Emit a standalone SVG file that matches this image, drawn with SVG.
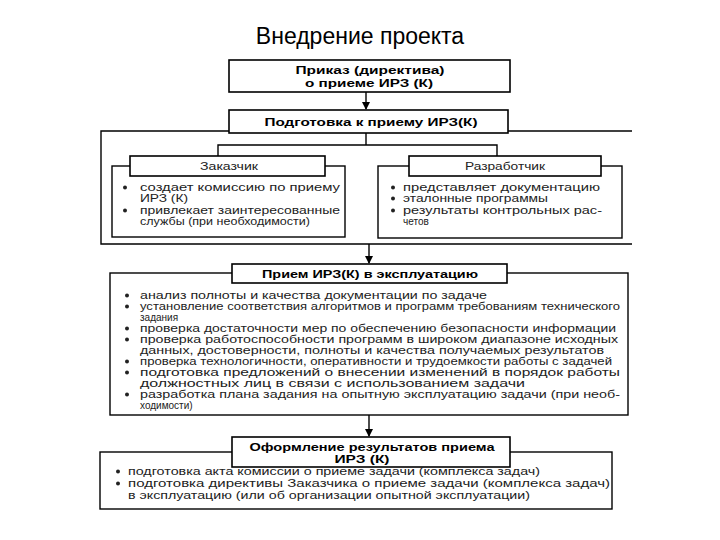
<svg xmlns="http://www.w3.org/2000/svg" width="720" height="540" viewBox="0 0 720 540">
<style>
.t{font-family:"Liberation Sans",Arial,sans-serif;fill:#000}
.title{font-size:23px}
.h{font-size:11.5px;font-weight:bold;text-anchor:middle}
.hn{font-size:10.5px;text-anchor:middle;fill:#222}
.b{font-size:10px;fill:#222}
.box{fill:#fff;stroke:#000;stroke-width:1.6}
.frame{fill:none;stroke:#000;stroke-width:1.4}
.ln{fill:none;stroke:#000;stroke-width:1.4}
.dot{fill:#222}
</style>
<defs>
<marker id="arr" markerWidth="8" markerHeight="8" refX="7" refY="4" orient="auto" markerUnits="userSpaceOnUse">
<path d="M0,0 L8,4 L0,8 Z" fill="#000"/>
</marker>
</defs>
<rect width="720" height="540" fill="#fff"/>
<text class="t title" x="360" y="44" text-anchor="middle">Внедрение проекта</text>

<g id="connectors">
<line class="ln" x1="366" y1="92" x2="366" y2="109" marker-end="url(#arr)"/>
<polyline class="ln" points="366,133 366,145"/>
<polyline class="ln" points="218,156 218,145 497,145 497,156"/>
<line class="ln" x1="369" y1="244" x2="369" y2="263" marker-end="url(#arr)"/>
<line class="ln" x1="369" y1="415" x2="369" y2="436" marker-end="url(#arr)"/>
</g>

<g id="prikaz">
<rect class="box" x="229" y="60" width="281" height="32"/>
<text class="t h" x="370" y="74" textLength="149" lengthAdjust="spacingAndGlyphs">Приказ (директива)</text>
<text class="t h" x="369" y="87" textLength="128" lengthAdjust="spacingAndGlyphs">о приеме ИРЗ (К)</text>
</g>

<g id="podgotovka">
<polyline class="frame" points="229,131 101,131 101,244 632,244"/>
<line class="frame" x1="508" y1="131" x2="632" y2="131"/>
<rect class="box" x="229" y="110" width="279" height="23"/>
<text class="t h" x="371" y="126" textLength="213" lengthAdjust="spacingAndGlyphs">Подготовка к приему ИРЗ(К)</text>
</g>

<g id="zakazchik">
<rect class="frame" x="112" y="166" width="233" height="71"/>
<rect class="box" x="130" y="156" width="195" height="20"/>
<text class="t hn" x="229" y="170" textLength="58" lengthAdjust="spacingAndGlyphs">Заказчик</text>
<circle class="dot" cx="125" cy="187.5" r="2"/>
<text class="t b" x="140" y="191" textLength="200" lengthAdjust="spacingAndGlyphs">создает комиссию по приему</text>
<text class="t b" x="140" y="202" textLength="48" lengthAdjust="spacingAndGlyphs">ИРЗ (К)</text>
<circle class="dot" cx="125" cy="210.5" r="2"/>
<text class="t b" x="140" y="214" textLength="200" lengthAdjust="spacingAndGlyphs">привлекает заинтересованные</text>
<text class="t b" x="140" y="225" textLength="170" lengthAdjust="spacingAndGlyphs">службы (при необходимости)</text>
</g>

<g id="razrabotchik">
<rect class="frame" x="378" y="166" width="244" height="72"/>
<rect class="box" x="409" y="156" width="192" height="20"/>
<text class="t hn" x="505" y="170" textLength="80" lengthAdjust="spacingAndGlyphs">Разработчик</text>
<circle class="dot" cx="393" cy="187.5" r="2"/>
<text class="t b" x="403" y="191" textLength="197" lengthAdjust="spacingAndGlyphs">представляет документацию</text>
<circle class="dot" cx="393" cy="198.5" r="2"/>
<text class="t b" x="403" y="202" textLength="145" lengthAdjust="spacingAndGlyphs">эталонные программы</text>
<circle class="dot" cx="393" cy="210.5" r="2"/>
<text class="t b" x="403" y="214" textLength="199" lengthAdjust="spacingAndGlyphs">результаты контрольных рас-</text>
<text class="t b" x="403" y="225">четов</text>
</g>

<g id="priem">
<rect class="frame" x="110" y="273" width="518" height="142"/>
<rect class="box" x="232" y="264" width="275" height="19"/>
<text class="t h" x="370" y="278" textLength="216" lengthAdjust="spacingAndGlyphs">Прием ИРЗ(К) в эксплуатацию</text>
<circle class="dot" cx="127" cy="295.5" r="2"/>
<text class="t b" x="140" y="299" textLength="347" lengthAdjust="spacingAndGlyphs">анализ полноты и качества документации по задаче</text>
<circle class="dot" cx="127" cy="306.5" r="2"/>
<text class="t b" x="140" y="310" textLength="480" lengthAdjust="spacingAndGlyphs">установление соответствия алгоритмов и программ требованиям технического</text>
<text class="t b" x="140" y="321">задания</text>
<circle class="dot" cx="127" cy="328.5" r="2"/>
<text class="t b" x="140" y="332" textLength="476" lengthAdjust="spacingAndGlyphs">проверка достаточности мер по обеспечению безопасности информации</text>
<circle class="dot" cx="127" cy="339.5" r="2"/>
<text class="t b" x="140" y="343" textLength="478" lengthAdjust="spacingAndGlyphs">проверка работоспособности программ в широком диапазоне исходных</text>
<text class="t b" x="140" y="354" textLength="464" lengthAdjust="spacingAndGlyphs">данных, достоверности, полноты и качества получаемых результатов</text>
<circle class="dot" cx="127" cy="361.5" r="2"/>
<text class="t b" x="140" y="365" textLength="472" lengthAdjust="spacingAndGlyphs">проверка технологичности, оперативности и трудоемкости работы с задачей</text>
<circle class="dot" cx="127" cy="372.5" r="2"/>
<text class="t b" x="140" y="376" textLength="480" lengthAdjust="spacingAndGlyphs">подготовка предложений о внесении изменений в порядок работы</text>
<text class="t b" x="140" y="387" textLength="385" lengthAdjust="spacingAndGlyphs">должностных лиц в связи с использованием задачи</text>
<circle class="dot" cx="127" cy="394.5" r="2"/>
<text class="t b" x="140" y="398" textLength="480" lengthAdjust="spacingAndGlyphs">разработка плана задания на опытную эксплуатацию задачи (при необ-</text>
<text class="t b" x="140" y="409">ходимости)</text>
</g>

<g id="oformlenie">
<rect class="frame" x="100" y="452" width="512" height="57"/>
<rect class="box" x="232" y="437" width="278" height="30"/>
<text class="t h" x="372" y="451" textLength="245" lengthAdjust="spacingAndGlyphs">Оформление результатов приема</text>
<text class="t h" x="362" y="463" textLength="55" lengthAdjust="spacingAndGlyphs">ИРЗ (К)</text>
<circle class="dot" cx="118" cy="471.5" r="2"/>
<text class="t b" x="128" y="475" textLength="412" lengthAdjust="spacingAndGlyphs">подготовка акта комиссии о приеме задачи (комплекса задач)</text>
<circle class="dot" cx="118" cy="483.5" r="2"/>
<text class="t b" x="128" y="487" textLength="482" lengthAdjust="spacingAndGlyphs">подготовка директивы Заказчика о приеме задачи (комплекса задач)</text>
<text class="t b" x="128" y="499" textLength="402" lengthAdjust="spacingAndGlyphs">в эксплуатацию (или об организации опытной эксплуатации)</text>
</g>
</svg>
